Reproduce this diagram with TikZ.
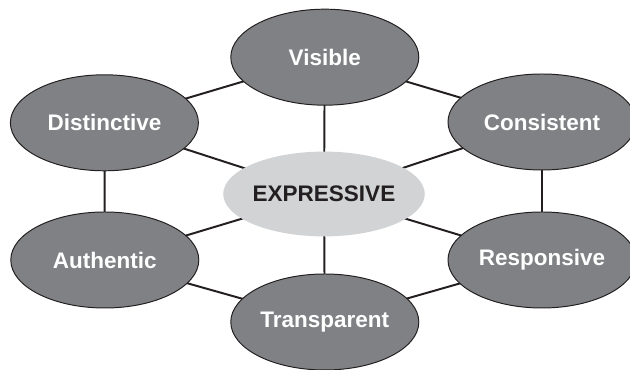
\documentclass[tikz,border=0pt]{standalone}
\usepackage{fontspec}
\setmainfont{Liberation Sans}
\usetikzlibrary{shapes.geometric, backgrounds}
\definecolor{valueGray}{HTML}{808184}
\definecolor{coreGray}{HTML}{D1D3D4}
\definecolor{lineDark}{HTML}{231F20}

\begin{document}
\begin{tikzpicture}[
    valueNode/.style={draw=lineDark, line width=0.7pt, ellipse, fill=valueGray, text=white, align=center, font=\fontsize{16}{19}\selectfont\bfseries, minimum width=4.7cm, minimum height=2.4cm, inner sep=0pt},
    coreNode/.style={ellipse, fill=coreGray, text=lineDark, align=center, font=\fontsize{16}{19}\selectfont\bfseries, minimum width=5cm, minimum height=2.12cm, inner sep=0pt},
    link/.style={draw=lineDark, line width=1.4pt},
]
\useasboundingbox (-8.1,-4.4) rectangle (7.65,4.85);
\node[coreNode] (expressive) at (0, 0) {EXPRESSIVE};
\node[valueNode] (visible)     at ( 0.02,  3.42) {Visible};
\node[valueNode] (distinctive) at (-5.49,  1.78) {Distinctive};
\node[valueNode] (consistent)  at ( 5.45,  1.80) {Consistent};
\node[valueNode] (authentic)   at (-5.48, -1.65) {Authentic};
\node[valueNode] (responsive)  at ( 5.45, -1.65) {Responsive};
\node[valueNode] (transparent) at ( 0.02, -3.20) {Transparent};
\begin{scope}[on background layer]
    % spokes
    \draw[link] (expressive.center) -- (visible.center);
    \draw[link] (expressive.center) -- (consistent.center);
    \draw[link] (expressive.center) -- (responsive.center);
    \draw[link] (expressive.center) -- (transparent.center);
    \draw[link] (expressive.center) -- (authentic.center);
    \draw[link] (expressive.center) -- (distinctive.center);
    % outer ring
    \draw[link] (visible.center) -- (consistent.center) -- (responsive.center) -- (transparent.center)
        -- (authentic.center) -- (distinctive.center) -- cycle;
\end{scope}
\end{tikzpicture}
\end{document}
